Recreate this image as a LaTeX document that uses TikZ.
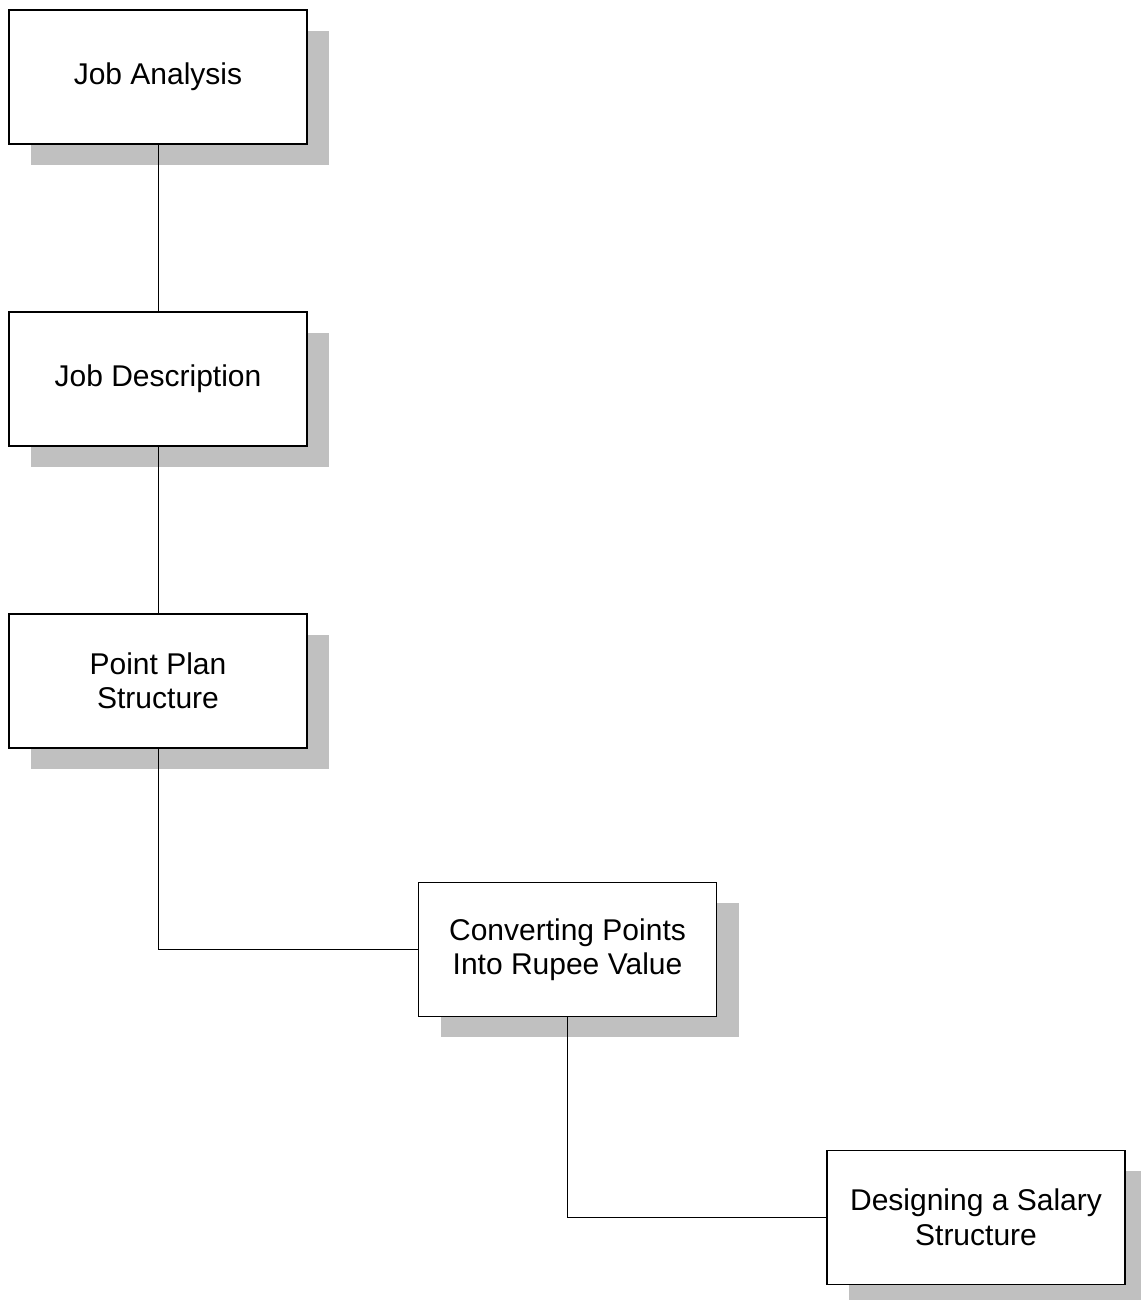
\documentclass[tikz,border=0pt]{standalone}
\usepackage{fontspec}
\setmainfont{Liberation Sans}
\usetikzlibrary{shadows}
\definecolor{shadowgray}{HTML}{C0C0C0}
\begin{document}
\begin{tikzpicture}[x=1pt,y=1pt,
  box/.style={draw=black, line width=1.5pt, fill=white, minimum width=298pt, minimum height=134pt,
    align=center, inner sep=0pt, font=\fontsize{30}{34.5}\selectfont,
    general shadow={fill=shadowgray, shadow xshift=22pt, shadow yshift=-21pt}},
  link/.style={draw=black, line width=1pt}]
\useasboundingbox (0,0) rectangle (1140,1300);
\node[box] (ja) at (158,1223) {Job Analysis};
\node[box] (jd) at (158,921) {Job Description};
\node[box] (pp) at (158,619) {Point Plan\\Structure};
\node[box] (cp) at (567.5,350.5) {Converting Points\\Into Rupee Value};
\node[box] (ds) at (976,82.5) {Designing a Salary\\Structure};
\draw[link] (ja.south) -- (jd.north);
\draw[link] (jd.south) -- (pp.north);
\draw[link] (pp.south) |- (cp.west);
\draw[link] (cp.south) |- (ds.west);
\end{tikzpicture}
\end{document}
